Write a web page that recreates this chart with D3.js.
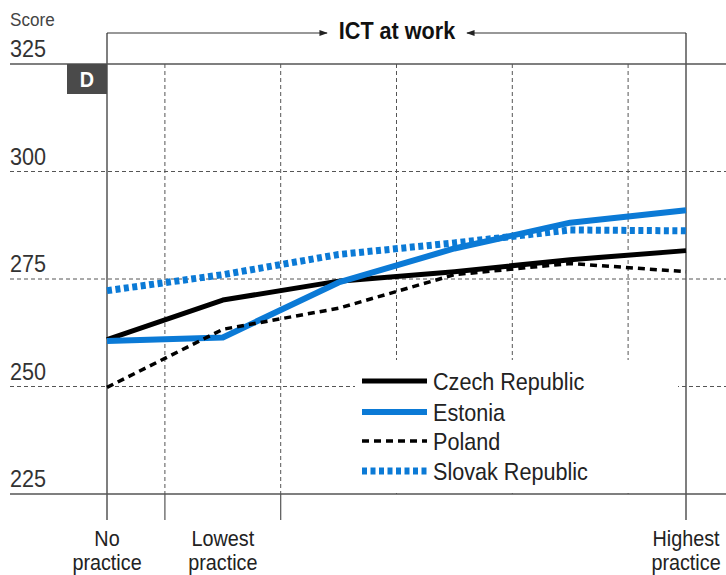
<!DOCTYPE html>
<html>
<head>
<meta charset="utf-8">
<script src="https://cdn.jsdelivr.net/npm/d3@7"></script>
<style>
  body { margin: 0; background: #fff; }
  text { font-family: "Liberation Sans", Arial, sans-serif; fill: #1a1a1a; }
</style>
</head>
<body>
<div id="chart"></div>
<script>
// data
var steps = [0, 1, 2, 3, 4, 5];
var stepLabels = ["No practice", "Lowest practice", "", "", "", "Highest practice"];
var yTicks = [225, 250, 275, 300, 325];
var countries = ["Czech Republic", "Estonia", "Poland", "Slovak Republic"];
var czech = [260.9, 270.1, 274.5, 276.7, 279.5, 281.6];
var estonia = [260.6, 261.4, 274.2, 282.1, 288.1, 291.0];
var poland = [249.8, 263.3, 268.2, 276.0, 278.6, 276.7];
var slovak = [272.3, 276.0, 280.7, 283.4, 286.4, 286.2];

var blue = "#0b7ad6";
var styles = [
  {color: "#000", width: 5, dash: null},
  {color: blue, width: 6, dash: null},
  {color: "#000", width: 3.5, dash: "7,5"},
  {color: blue, width: 7, dash: "5,3.5"}
];
var seriesValues = [czech, estonia, poland, slovak];

var svgWidth = 726, svgHeight = 575;
var svg = d3.select("#chart").append("svg")
  .attr("width", svgWidth).attr("height", svgHeight);

var x = d3.scaleLinear().domain([0, 5]).range([107, 686]);
var y = d3.scaleLinear().domain([225, 325]).range([494, 64]);
var gridColor = "#555";
var legendBox = {x: 355, y: 360, w: 323, h: 133};

// text helper, slightly condensed like the original face
function label(g, tx, ty, str, size, anchor, weight, fill) {
  return g.append("text")
    .attr("transform", "translate(" + tx + "," + ty + ") scale(0.9,1)")
    .attr("text-anchor", anchor || "start")
    .style("font-size", size + "px")
    .style("font-weight", weight || "normal")
    .style("fill", fill || "#222")
    .text(str);
}

// horizontal grid
svg.selectAll(".hgrid")
  .data(yTicks.filter(function(d) { return d != 225 && d != 325; }))
  .enter().append("line")
  .attr("x1", 10).attr("x2", svgWidth)
  .attr("y1", function(d) { return y(d); })
  .attr("y2", function(d) { return y(d); })
  .attr("stroke", gridColor).attr("stroke-width", 1)
  .attr("stroke-dasharray", "4,3");

// vertical dashed dividers between the steps
var dividers = steps.slice(0, 5).map(function(d) { return d + 0.5; });
svg.selectAll(".vgrid")
  .data(dividers)
  .enter().append("line")
  .attr("x1", function(d) { return x(d); })
  .attr("x2", function(d) { return x(d); })
  .attr("y1", y(325)).attr("y2", y(225))
  .attr("stroke", gridColor).attr("stroke-width", 1)
  .attr("stroke-dasharray", "4,3");

// ticks below the axis (those not hidden by the legend)
svg.selectAll(".vtick")
  .data(dividers.filter(function(d) { return x(d) < legendBox.x; }))
  .enter().append("line")
  .attr("x1", function(d) { return x(d); })
  .attr("x2", function(d) { return x(d); })
  .attr("y1", y(225)).attr("y2", 520)
  .attr("stroke", gridColor).attr("stroke-width", 1.2);

// legend background hides the grid behind it
svg.append("rect")
  .attr("x", legendBox.x).attr("y", legendBox.y)
  .attr("width", legendBox.w).attr("height", legendBox.h)
  .attr("fill", "#fff");

// top and bottom solid lines
[325, 225].forEach(function(v) {
  svg.append("line")
    .attr("x1", 10).attr("x2", svgWidth)
    .attr("y1", y(v)).attr("y2", y(v))
    .attr("stroke", gridColor).attr("stroke-width", 1.5);
});

// bracket "ICT at work"
var bracketY = 33;
var defs = svg.append("defs");
defs.append("marker")
  .attr("id", "arrow")
  .attr("viewBox", "0 0 10 10")
  .attr("refX", 9).attr("refY", 5)
  .attr("markerWidth", 7).attr("markerHeight", 7)
  .attr("orient", "auto-start-reverse")
  .append("path").attr("d", "M0,1.5 L10,5 L0,8.5 Z").attr("fill", "#222");

[x(0), x(5)].forEach(function(px) {
  svg.append("line")
    .attr("x1", px).attr("x2", px)
    .attr("y1", bracketY).attr("y2", 520)
    .attr("stroke", gridColor).attr("stroke-width", 1.5);
});
svg.append("line")
  .attr("x1", x(0)).attr("x2", 327)
  .attr("y1", bracketY).attr("y2", bracketY)
  .attr("stroke", "#333").attr("stroke-width", 1.2)
  .attr("marker-end", "url(#arrow)");
svg.append("line")
  .attr("x1", x(5)).attr("x2", 467)
  .attr("y1", bracketY).attr("y2", bracketY)
  .attr("stroke", "#333").attr("stroke-width", 1.2)
  .attr("marker-end", "url(#arrow)");
label(svg, 397, 39, "ICT at work", 24, "middle", "bold", "#111");

// y axis labels
label(svg, 10, 26, "Score", 19, "start", "normal", "#444");
svg.selectAll(".ylab")
  .data(yTicks)
  .enter().each(function(d) {
    label(svg, 10, y(d) - 7, d, 24, "start", "normal", "#333");
  });

// panel tag
svg.append("rect")
  .attr("x", 67).attr("y", y(325))
  .attr("width", x(0) - 67).attr("height", 30)
  .attr("fill", "#4a4a4a");
label(svg, 87, 87, "D", 22, "middle", "bold", "#fff");

// x labels
steps.forEach(function(s) {
  var words = stepLabels[s].split(" ");
  if (!stepLabels[s]) return;
  label(svg, x(s), 546, words[0], 22, "middle");
  label(svg, x(s), 570, words[1], 22, "middle");
});

// data lines
var line = d3.line()
  .x(function(d, i) { return x(steps[i]); })
  .y(function(d) { return y(d); });

seriesValues.forEach(function(vals, k) {
  svg.append("path")
    .datum(vals)
    .attr("d", line)
    .attr("fill", "none")
    .attr("stroke", styles[k].color)
    .attr("stroke-width", styles[k].width)
    .attr("stroke-dasharray", styles[k].dash)
    .attr("stroke-linejoin", "round");
});

// legend
var legendRows = [381, 412, 441, 471];
countries.forEach(function(c, k) {
  svg.append("line")
    .attr("x1", 362).attr("x2", 427)
    .attr("y1", legendRows[k]).attr("y2", legendRows[k])
    .attr("stroke", styles[k].color)
    .attr("stroke-width", styles[k].width)
    .attr("stroke-dasharray", styles[k].dash);
  label(svg, 433, legendRows[k] + 9, c, 24);
});
</script>
</body>
</html>
